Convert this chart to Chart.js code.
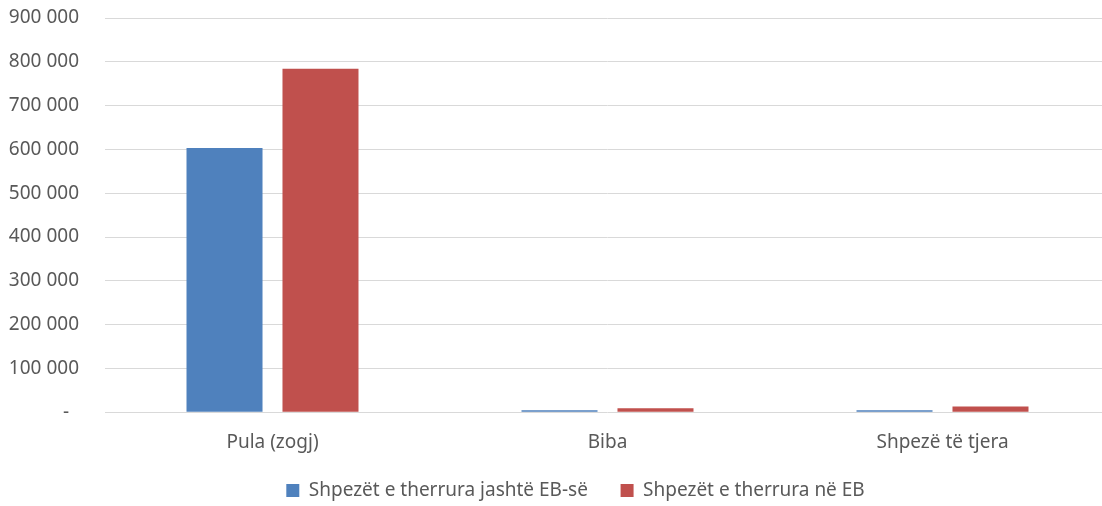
<!DOCTYPE html>
<html lang="sq">
<head>
  <meta charset="UTF-8">
  <title>Shpezët e therrura</title>
  <script src="https://cdn.jsdelivr.net/npm/chart.js"></script>
  <style>
    body { margin: 0; padding: 0; background: white; overflow: hidden; }
    .wrap { width: 1142px; height: 510px; }
  </style>
</head>
<body>
  <div class="wrap">
    <canvas id="chart" width="1142" height="510"></canvas>
  </div>

  <script>
    // te dhenat
    const categories = ['Pula (zogj)', 'Biba', 'Shpezë të tjera'];
    const jashteEB = [603000, 4500, 4500];
    const neEB = [784000, 9000, 13000];
    const seriesNames = ['Shpezët e therrura jashtë EB-së', 'Shpezët e therrura në EB'];
    const yMax = 900000;
    const yStep = 100000;

    const grey = '#595959';
    const font = { family: "'Noto Sans', sans-serif", size: 19 };

    function fmt(v) {
      if (v === 0) return '-  ';
      return String(v).replace(/\B(?=(\d{3})+(?!\d))/g, ' ');
    }

    new Chart(document.getElementById('chart'), {
      type: 'bar',
      data: {
        labels: categories,
        datasets: [
          { label: seriesNames[0], data: jashteEB, backgroundColor: '#4F81BD' },
          { label: seriesNames[1], data: neEB, backgroundColor: '#C0504D' }
        ]
      },
      options: {
        responsive: false,
        animation: false,
        categoryPercentage: 0.573,
        barPercentage: 0.792,
        layout: { padding: { top: 18, left: 9, right: 0, bottom: 0 } },
        plugins: {
          tooltip: { enabled: false },
          legend: {
            position: 'bottom',
            labels: {
              color: grey, font: font, boxWidth: 13, boxHeight: 13, padding: 8,
              generateLabels: chart => {
                const items = Chart.defaults.plugins.legend.labels.generateLabels(chart);
                items[0].text += '     ';
                return items;
              }
            }
          }
        },
        scales: {
          x: {
            grid: { display: false, drawTicks: false },
            border: { display: false },
            ticks: { color: grey, font: font, padding: 19 }
          },
          y: {
            min: 0, max: yMax,
            grid: { color: '#d9d9d9', lineWidth: 1, drawTicks: false },
            border: { display: false },
            ticks: { stepSize: yStep, color: grey, font: font, padding: 26, callback: v => fmt(v) },
            afterFit: s => { s.width = 96; s.paddingTop = 0; s.paddingBottom = 0; }
          },
          y2: {
            position: 'right',
            display: true,
            grid: { display: false, drawTicks: false },
            border: { display: false },
            ticks: { display: false },
            afterFit: s => { s.width = 32; s.paddingTop = 0; s.paddingBottom = 0; }
          }
        }
      }
    });
  </script>
</body>
</html>
